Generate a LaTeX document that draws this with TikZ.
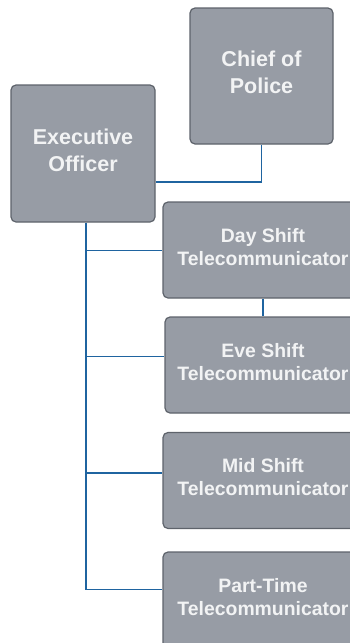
\documentclass[tikz,border=0pt]{standalone}
\usepackage{fontspec}
\setmainfont{Liberation Sans}
\begin{document}
\begin{tikzpicture}[x=1pt,y=-1pt,
  orgbox/.style={draw=boxedge, fill=boxfill, line width=1.2pt, rounded corners=5pt,
    text=boxtext, font=\bfseries\fontsize{19.4}{23}\selectfont, align=center,
    inner sep=0pt, text depth=6.5pt},
  headbox/.style={orgbox, font=\bfseries\fontsize{21.5}{27}\selectfont, text depth=7pt},
  link/.style={draw=linkblue, line width=1.4pt}]
\definecolor{boxfill}{HTML}{979CA5}
\definecolor{boxedge}{HTML}{5E636B}
\definecolor{boxtext}{HTML}{F2F3F4}
\definecolor{linkblue}{HTML}{1F64A0}
\useasboundingbox (0,0) rectangle (350,643);
\clip (0,0) rectangle (350,643);

% boxes
\node[headbox, minimum width=143pt, minimum height=136pt] (chief) at (261.5,76) {Chief of\\Police};
\node[headbox, minimum width=144pt, minimum height=137pt] (exec) at (83,153.5) {Executive\\Officer};
\node[orgbox, minimum width=200pt, minimum height=96pt] (day)  at (263,250) {Day Shift\\Telecommunicator};
\node[orgbox, minimum width=196pt, minimum height=96pt] (eve)  at (263,365) {Eve Shift\\Telecommunicator};
\node[orgbox, minimum width=200pt, minimum height=96pt] (mid)  at (263,480.5) {Mid Shift\\Telecommunicator};
\node[orgbox, minimum width=200pt, minimum height=96pt] (part) at (263,600) {Part-Time\\Telecommunicator};

% chief to executive officer
\draw[link] (chief.south) |- ([yshift=-28.5pt]exec.east);

% trunk down the left side and its branches
\coordinate (top) at ([xshift=3pt]exec.south);
\coordinate (b1) at ([yshift=-49pt]day.north west);
\coordinate (b2) at ([yshift=-40pt]eve.north west);
\coordinate (b3) at ([yshift=-41pt]mid.north west);
\coordinate (b4) at ([yshift=-38pt]part.north west);
\draw[link] (top) |- (b4);
\draw[link] (top |- b1) -- (b1);
\draw[link] (top |- b2) -- (b2);
\draw[link] (top |- b3) -- (b3);

% day shift to eve shift
\draw[link] (day.south) -- (day.south |- eve.north);
\end{tikzpicture}
\end{document}
